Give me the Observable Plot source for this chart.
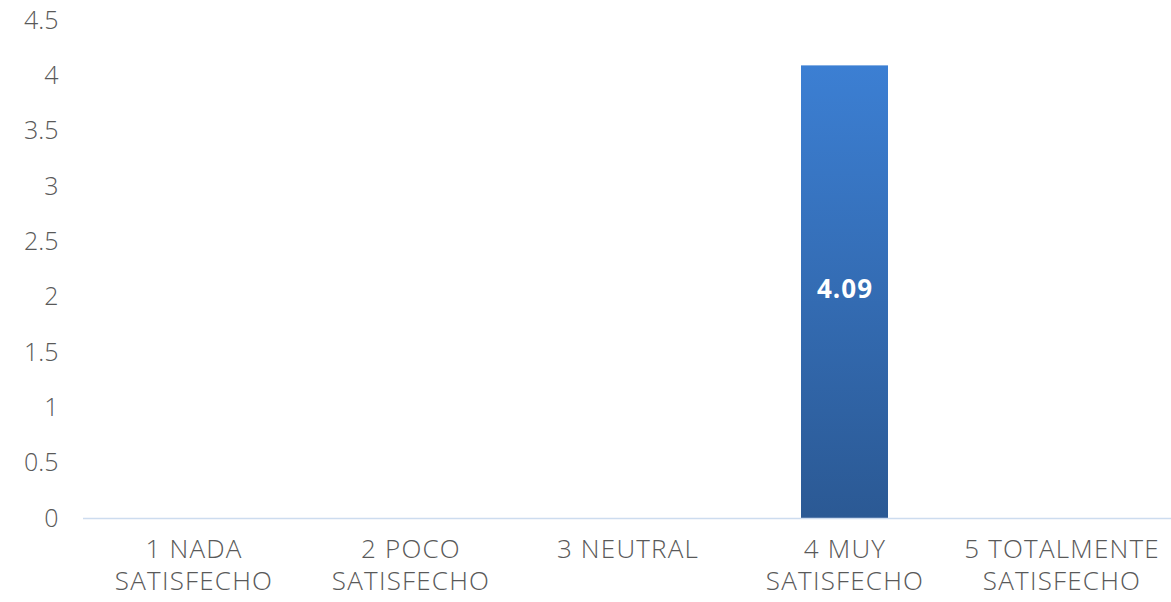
<!DOCTYPE html>
<html><head><meta charset="utf-8">
<script src="https://cdn.jsdelivr.net/npm/d3@7"></script>
<script src="https://cdn.jsdelivr.net/npm/@observablehq/plot@0.6"></script>
<style>body{margin:0;background:#fff;} svg{display:block;}</style>
</head><body><div id="chart"></div>
<script>
const categories = ["1 NADA\nSATISFECHO","2 POCO\nSATISFECHO","3 NEUTRAL","4 MUY\nSATISFECHO","5 TOTALMENTE\nSATISFECHO"];
const values = [0,0,0,4.09,0];
const yTicks = [0,0.5,1,1.5,2,2.5,3,3.5,4,4.5];
const data = categories.map((c,i)=>({cat:c, value:values[i]}));
const shown = data.filter(d=>d.value>0);

const chart = Plot.plot({
  width:1171, height:602,
  marginLeft:83, marginRight:0, marginTop:20, marginBottom:84,
  style:{fontFamily:"'Open Sans', sans-serif", fontWeight:300, color:"#595959", background:"#fff"},
  x:{domain:categories, paddingInner:0.6, paddingOuter:0.3},
  y:{domain:[0,4.5]},
  marks:[
    Plot.axisY({ticks:yTicks, tickSize:0, tickPadding:25, fontSize:25, fill:"#595959", label:null, tickFormat:d=>String(d)}),
    Plot.axisX({tickSize:0, tickPadding:16, fontSize:26, fill:"#595959", lineHeight:1.25, label:null}),
    Plot.barY(shown, {x:"cat", y:"value", fill:"url(#barGrad)"}),
    Plot.ruleY([0], {stroke:"#cddcef", strokeWidth:1.5}),
    Plot.text(shown, {x:"cat", y:d=>d.value/2, text:d=>d.value.toFixed(2), fill:"#fff", fontSize:26, fontWeight:"bold", dy:-3, fontFamily:"'Open Sans', sans-serif"})
  ]
});
const svg = d3.select(chart);
svg.selectAll("g[aria-label='x-axis tick label']").style("letter-spacing","1.2px");
svg.selectAll("g[aria-label='text']").style("letter-spacing","1px");
const defs = svg.insert("defs",":first-child");
const g = defs.append("linearGradient").attr("id","barGrad").attr("x1",0).attr("y1",0).attr("x2",0).attr("y2",1);
g.append("stop").attr("offset","0%").attr("stop-color","#3c7fd3");
g.append("stop").attr("offset","100%").attr("stop-color","#2b5994");
document.getElementById("chart").appendChild(chart);
</script>
</body></html>
